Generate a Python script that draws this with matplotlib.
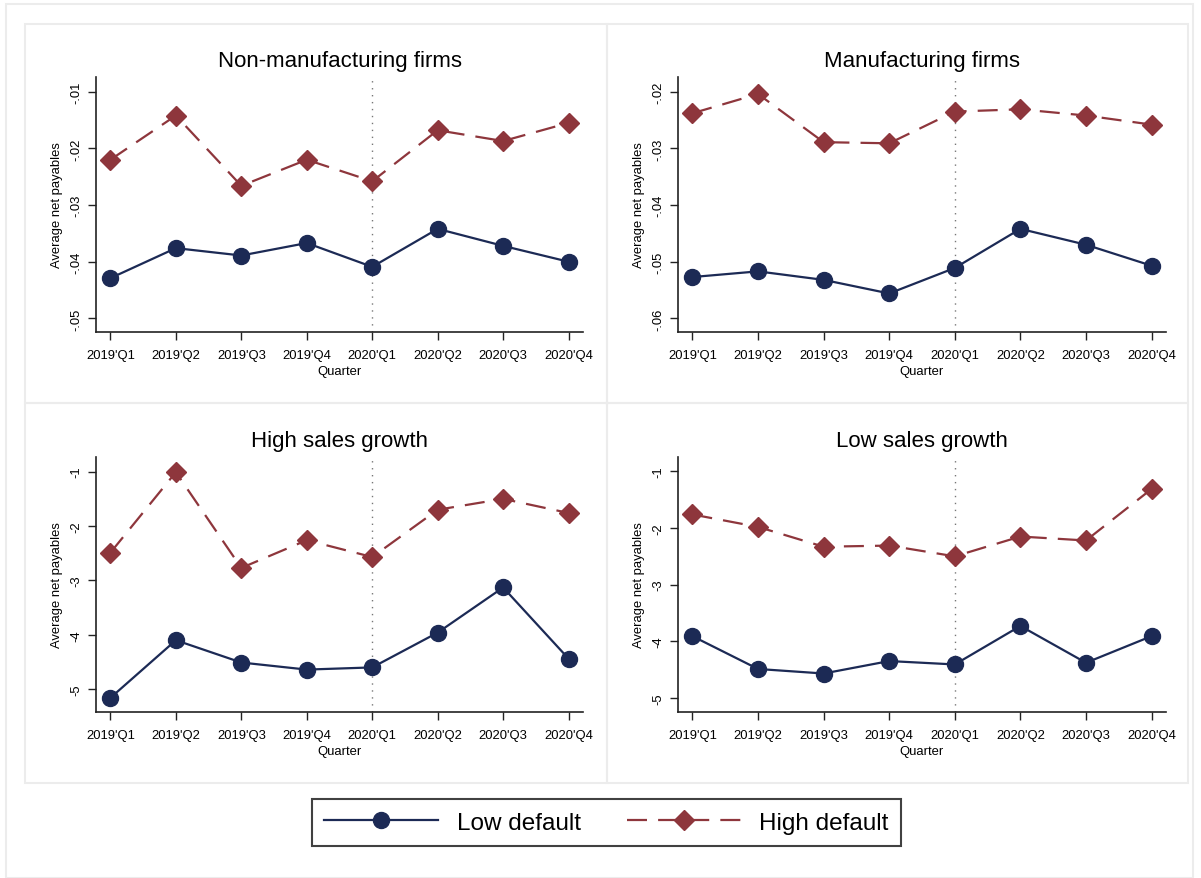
import matplotlib
matplotlib.use("Agg")
import matplotlib.pyplot as plt
from matplotlib.patches import Rectangle
import numpy as np

plt.rcParams["font.family"] = ["Liberation Sans", "DejaVu Sans"]

quarters = ["2019'Q1", "2019'Q2", "2019'Q3", "2019'Q4",
            "2020'Q1", "2020'Q2", "2020'Q3", "2020'Q4"]

# average net payables by group
nonman_low = [-0.0429, -0.0376, -0.0389, -0.0367, -0.0409, -0.0342, -0.0372, -0.0400]
nonman_high = [-0.0220, -0.0142, -0.0266, -0.0220, -0.0258, -0.0168, -0.0187, -0.0155]
man_low = [-0.0527, -0.0517, -0.0532, -0.0556, -0.0511, -0.0442, -0.0470, -0.0507]
man_high = [-0.0238, -0.0204, -0.0289, -0.0291, -0.0235, -0.0231, -0.0242, -0.0258]
hisales_low = [-5.16, -4.10, -4.51, -4.64, -4.60, -3.96, -3.13, -4.44]
hisales_high = [-2.49, -1.01, -2.77, -2.26, -2.57, -1.70, -1.50, -1.76]
losales_low = [-3.91, -4.49, -4.57, -4.35, -4.41, -3.73, -4.38, -3.91]
losales_high = [-1.76, -1.98, -2.33, -2.31, -2.50, -2.15, -2.22, -1.31]

nonman_ticks = [-0.05, -0.04, -0.03, -0.02, -0.01]
nonman_ticklabels = ["-.05", "-.04", "-.03", "-.02", "-.01"]
man_ticks = [-0.06, -0.05, -0.04, -0.03, -0.02]
man_ticklabels = ["-.06", "-.05", "-.04", "-.03", "-.02"]
sales_ticks = [-5, -4, -3, -2, -1]
sales_ticklabels = ["-5", "-4", "-3", "-2", "-1"]

NAVY = "#1c2a55"
MAROON = "#8e363c"
W, H = 1201, 879


def box(l, t, r, b):
    """pixel box (top-left origin) -> figure fraction rect"""
    return [l / W, 1 - b / H, (r - l) / W, (b - t) / H]


fig = plt.figure(figsize=(W / 100, H / 100), dpi=100)

# light panel frames
frames = [(6, 5, 1193, 879), (25, 25, 607, 404), (607, 25, 1188, 404),
          (25, 404, 607, 784), (607, 404, 1188, 784)]
for l, t, r, b in frames:
    fig.patches.append(Rectangle((l / W, 1 - b / H), (r - l) / W, (b - t) / H,
                                 transform=fig.transFigure, fill=False,
                                 edgecolor="#ececec", lw=1.5))

panels = [
    ("Non-manufacturing firms", nonman_low, nonman_high, nonman_ticks,
     nonman_ticklabels, (-0.0524, -0.0074), (96, 78, 583, 333)),
    ("Manufacturing firms", man_low, man_high, man_ticks,
     man_ticklabels, (-0.0624, -0.0174), (678, 78, 1166, 333)),
    ("High sales growth", hisales_low, hisales_high, sales_ticks,
     sales_ticklabels, (-5.42, -0.73), (96, 458, 583, 713)),
    ("Low sales growth", losales_low, losales_high, sales_ticks,
     sales_ticklabels, (-5.25, -0.745), (678, 458, 1166, 713)),
]

x = np.arange(len(quarters))
for title, low, high, ticks, ticklabels, ylim, rect in panels:
    ax = fig.add_axes(box(*rect))
    ax.axvline(4, color="#777777", lw=1.0, ls=(0, (1, 4)), zorder=1)
    ax.plot(x, low, color=NAVY, lw=1.6, marker="o", ms=11.5,
            label="Low default", zorder=3)
    ax.plot(x, high, color=MAROON, lw=1.6, ls=(0, (9, 5)), marker="D",
            ms=10, label="High default", zorder=3)
    ax.set_xlim(-0.22, 7.22)
    ax.set_ylim(*ylim)
    ax.set_xticks(x)
    ax.set_xticklabels(quarters)
    ax.set_yticks(ticks)
    ax.set_yticklabels(ticklabels)
    for s in ["top", "right"]:
        ax.spines[s].set_visible(False)
    for s in ["left", "bottom"]:
        ax.spines[s].set_linewidth(1.2)
        ax.spines[s].set_color("#222222")
    ax.tick_params(length=6, width=1.0, color="#222222", labelsize=9.4)
    ax.tick_params(axis="x", pad=6)
    ax.tick_params(axis="y", labelrotation=90, pad=4)
    for lab in ax.get_yticklabels():
        lab.set_va("center")
    ax.set_title(title, fontsize=16, pad=8)
    ax.set_xlabel("Quarter", fontsize=9.4, labelpad=3)
    ax.set_ylabel("Average net payables", fontsize=9.4, labelpad=5)
    if title == "Non-manufacturing firms":
        handles, labels = ax.get_legend_handles_labels()

leg = fig.legend(handles, labels, ncol=2, loc="center",
                 bbox_to_anchor=((310 + 903) / 2 / W, 1 - (796 + 851) / 2 / H),
                 fontsize=17.5, frameon=True, fancybox=False,
                 edgecolor="#111111", handlelength=4.7, handletextpad=0.75,
                 columnspacing=1.9, borderpad=0.5, numpoints=1)
leg.get_frame().set_linewidth(1.5)

fig.savefig("out.png", dpi=100, facecolor="white")
